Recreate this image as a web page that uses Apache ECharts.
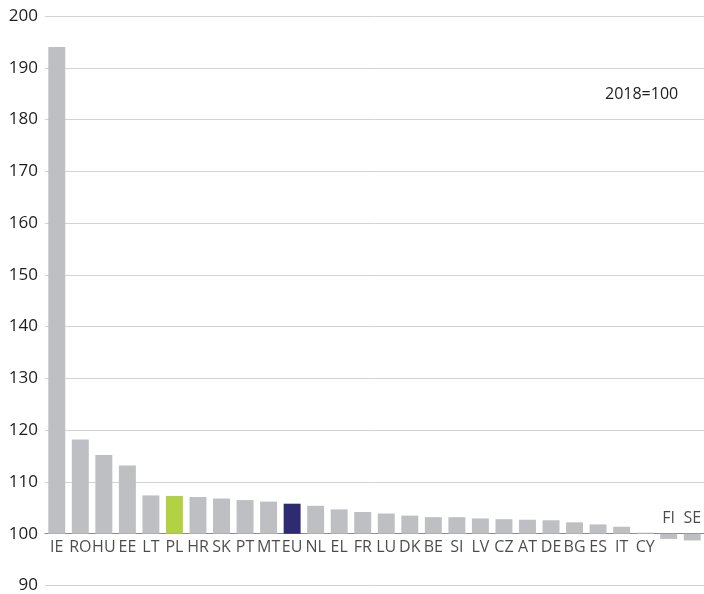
<!DOCTYPE html>
<html><head><meta charset="utf-8">
<script src="https://cdn.jsdelivr.net/npm/echarts@6/dist/echarts.min.js"></script>
<style>html,body{margin:0;padding:0;background:#fff}#c{width:704px;height:594px}</style>
</head><body><div id="c"></div>
<script>
var categories = ['IE','RO','HU','EE','LT','PL','HR','SK','PT','MT','EU','NL','EL','FR','LU','DK','BE','SI','LV','CZ','AT','DE','BG','ES','IT','CY','FI','SE'];
var values = [194.0,118.2,115.2,113.2,107.4,107.3,107.1,106.8,106.5,106.2,105.8,105.4,104.7,104.2,103.9,103.5,103.2,103.2,102.95,102.8,102.7,102.6,102.2,101.8,101.35,100.2,99.0,98.7];
var baseValue = 100;
var yTicks = [90,100,110,120,130,140,150,160,170,180,190,200];
var noteText = '2018=100';

var highlight = {PL:'#b2d144', EU:'#2e2b72'};
var FONT = 'Open Sans';
var barData = values.map(function(v,i){
  var c = categories[i];
  return {value: +(v-baseValue).toFixed(3), itemStyle:{color: highlight[c] || '#bebfc3'}};
});
var labelData = values.map(function(v,i){
  var neg = v < baseValue;
  return {value: 0, label:{show:true, formatter: categories[i], position: neg?'top':'bottom', distance: neg?7:6}};
});
var chart = echarts.init(document.getElementById('c'), null, {renderer:'canvas'});
chart.setOption({
  animation:false,
  grid:{left:45, right:0, top:16, bottom:6},
  xAxis:{type:'category', data:categories, axisTick:{show:false}, axisLabel:{show:false},
    axisLine:{onZero:true, lineStyle:{color:'#8c8c8c', width:1}}},
  yAxis:{type:'value', min:yTicks[0]-baseValue, max:yTicks[yTicks.length-1]-baseValue, interval:yTicks[1]-yTicks[0],
    axisLine:{show:false}, axisTick:{show:false},
    axisLabel:{margin:7, color:'#1e1e1e', fontFamily:FONT, fontSize:17, formatter:function(v){return String(v+baseValue);}},
    splitLine:{lineStyle:{color:'#d3d3d3', width:1}}},
  series:[
    {type:'bar', data:barData, barCategoryGap:'28%'},
    {type:'scatter', data:labelData, symbolSize:0, z:5,
      label:{color:'#1e1e1e', fontFamily:FONT, fontSize:16}}
  ],
  graphic:[{type:'text', left:605, top:86, style:{text:noteText, font:'16px "Open Sans"', fill:'#1e1e1e'}}]
});
</script></body></html>
